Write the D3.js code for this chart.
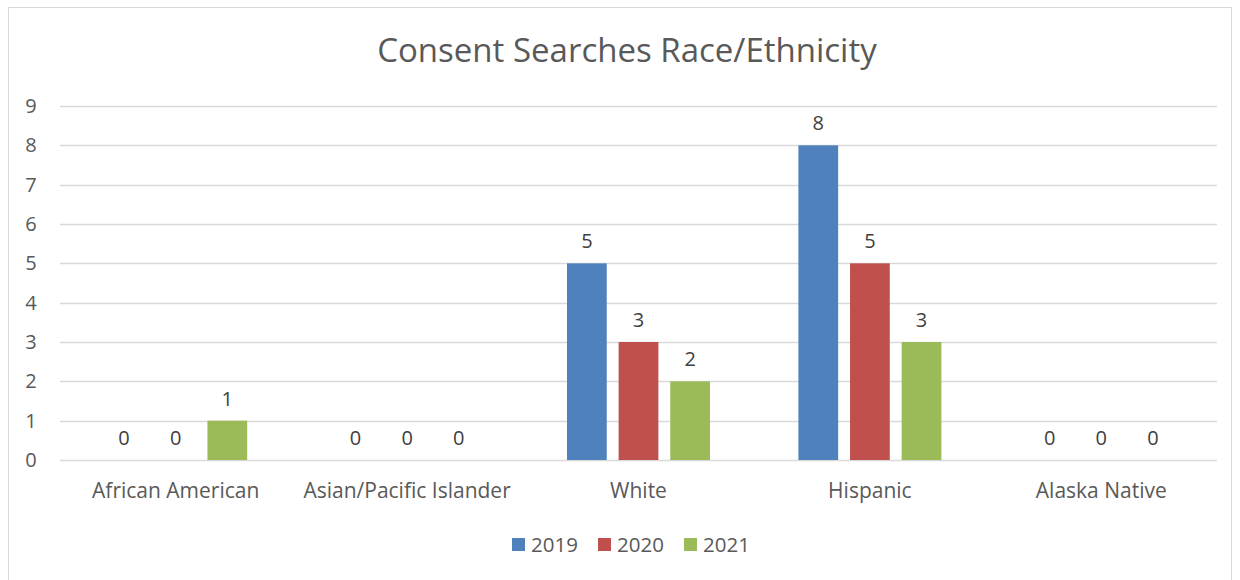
<!DOCTYPE html>
<html>
<head>
<meta charset="utf-8">
<script src="https://cdn.jsdelivr.net/npm/d3@7"></script>
<style>
  body { margin: 0; background: #fff; }
  text { font-family: "Open Sans", "Noto Sans", sans-serif; }
</style>
</head>
<body>
<svg id="chart" width="1240" height="580"></svg>
<script>
// data
const categories = ["African American", "Asian/Pacific Islander", "White", "Hispanic", "Alaska Native"];
const years = ["2019", "2020", "2021"];
const v2019 = [0, 0, 5, 8, 0];
const v2020 = [0, 0, 3, 5, 0];
const v2021 = [1, 0, 2, 3, 0];
const yTicks = [0, 1, 2, 3, 4, 5, 6, 7, 8, 9];

const series = [v2019, v2020, v2021];
const colors = ["#4F81BD", "#C0504D", "#9BBB59"];

const svg = d3.select("#chart");

// outer frame
svg.append("rect")
  .attr("x", 8.5).attr("y", 7.5)
  .attr("width", 1223).attr("height", 580)
  .attr("fill", "none").attr("stroke", "#d9d9d9");

const margin = { left: 60, right: 1217, top: 106, bottom: 460 };

const x = d3.scaleBand()
  .domain(categories)
  .range([margin.left, margin.right]);

const xi = d3.scaleBand()
  .domain(years)
  .range([0, 143])
  .paddingInner(0.23);

const y = d3.scaleLinear()
  .domain([0, 9])
  .range([margin.bottom, margin.top]);

svg.append("text")
  .attr("x", 627).attr("y", 62)
  .attr("text-anchor", "middle")
  .style("font-size", "33px")
  .style("fill", "#595959")
  .text("Consent Searches Race/Ethnicity");

// grid lines
svg.append("g")
  .selectAll("line")
  .data(yTicks)
  .enter()
  .append("line")
  .attr("x1", margin.left).attr("x2", margin.right)
  .attr("y1", d => Math.round(y(d)) + 0.5)
  .attr("y2", d => Math.round(y(d)) + 0.5)
  .attr("stroke", "#d9d9d9")
  .attr("stroke-width", 1.5);

// y axis labels
svg.append("g")
  .selectAll("text")
  .data(yTicks)
  .enter()
  .append("text")
  .attr("x", 31)
  .attr("y", d => y(d))
  .attr("dy", "0.35em")
  .attr("text-anchor", "middle")
  .style("font-size", "20px")
  .style("fill", "#595959")
  .text(d => d);

// bars
const groups = svg.append("g")
  .selectAll("g")
  .data(categories)
  .enter()
  .append("g")
  .attr("transform", d => `translate(${x(d) + x.bandwidth() / 2 - 71.5},0)`);

groups.selectAll("rect")
  .data((d, i) => years.map((yr, j) => ({ yr, value: series[j][i], j })))
  .enter()
  .append("rect")
  .attr("x", d => xi(d.yr))
  .attr("width", xi.bandwidth())
  .attr("y", d => y(d.value))
  .attr("height", d => y(0) - y(d.value))
  .attr("fill", d => colors[d.j]);

groups.selectAll("text")
  .data((d, i) => years.map((yr, j) => ({ yr, value: series[j][i], j })))
  .enter()
  .append("text")
  .attr("x", d => xi(d.yr) + xi.bandwidth() / 2)
  .attr("y", d => y(d.value) - 22)
  .attr("dy", "0.35em")
  .attr("text-anchor", "middle")
  .style("font-size", "20px")
  .style("fill", "#404040")
  .text(d => d.value);

// category labels
svg.append("g")
  .selectAll("text")
  .data(categories)
  .enter()
  .append("text")
  .attr("x", d => x(d) + x.bandwidth() / 2)
  .attr("y", 491)
  .attr("dy", "0.35em")
  .attr("text-anchor", "middle")
  .style("font-size", "21px")
  .style("fill", "#595959")
  .text(d => d);

// legend
const legendX = [512, 598, 684];
const legend = svg.append("g")
  .selectAll("g")
  .data(years)
  .enter()
  .append("g")
  .attr("transform", (d, i) => `translate(${legendX[i]},538)`);

legend.append("rect")
  .attr("width", 13).attr("height", 13)
  .attr("fill", (d, i) => colors[i]);

legend.append("text")
  .attr("x", 19).attr("y", 7)
  .attr("dy", "0.35em")
  .style("font-size", "20.5px")
  .style("fill", "#595959")
  .text(d => d);
</script>
</body>
</html>
